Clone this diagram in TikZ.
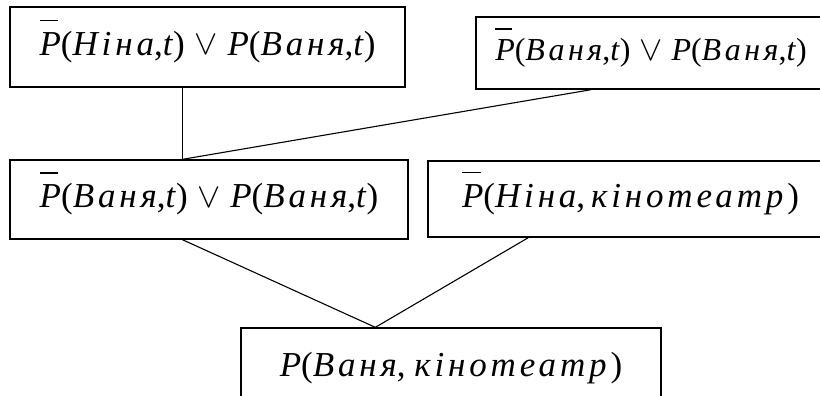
\documentclass[tikz,border=0pt]{standalone}
\usepackage{fontspec}
\setmainfont{Liberation Serif}
\newfontfamily\cyr[LetterSpace=11]{Liberation Serif}
\usetikzlibrary{calc}

% negated predicate letter: P with a bar over it
\newcommand\barP{\leavevmode\rlap{\raisebox{0.97em}[0pt][0pt]{\rule{0.53em}{0.05em}}}P}
\newcommand\lp{\textup{(}}
\newcommand\rp{\textup{)}}
\newcommand\cm{\textup{,}}
\newcommand\orop{\;\textup{\raisebox{0.02em}{\scalebox{1.4}{$\vee$}}}\;}
\newcommand\w[1]{{\cyr\itshape #1}}

\tikzset{
  clause/.style={draw, line width=1.3pt, rectangle, inner sep=0pt,
    font=\fontsize{35}{40}\selectfont\itshape},
  small clause/.style={clause, font=\fontsize{32}{38}\selectfont\itshape},
  edge/.style={line width=1.1pt}
}

\begin{document}
\begin{tikzpicture}[x=1pt, y=-1pt]
  \useasboundingbox (0,0) rectangle (820,396);
  \clip (0,0) rectangle (820,396);

  % premises
  \node[clause, minimum width=395pt, minimum height=80pt] (c1) at (207.5,47)
    {\barP\lp\w{Ніна}\cm t\rp\orop P\lp\w{Ваня}\cm t\rp};
  \node[small clause, minimum width=350pt, minimum height=72pt] (c2) at (651,53)
    {\barP\lp\w{Ваня}\cm t\rp\orop P\lp\w{Ваня}\cm t\rp};

  % first resolvent and the fact
  \node[clause, minimum width=398pt, minimum height=79pt] (c3) at (209,199.5)
    {\barP\lp\w{Ваня}\cm t\rp\orop P\lp\w{Ваня}\cm t\rp};
  \node[clause, minimum width=405pt, minimum height=76pt] (c4) at (630.5,199)
    {\barP\lp\w{Ніна}\cm\,\w{кінотеатр}\rp};

  % conclusion
  \node[clause, minimum width=420pt, minimum height=80pt] (c5) at (451,368)
    {P\lp\w{Ваня}\cm{} \w{кінотеатр}\rp};

  % resolution links
  \coordinate (j1) at ([xshift=173pt]c3.north west);
  \coordinate (j2) at ([xshift=135pt]c5.north west);
  \draw[edge] ([xshift=173pt]c1.south west) -- (j1);
  \draw[edge] ([xshift=116pt]c2.south west) -- (j1);
  \draw[edge] ([xshift=173pt]c3.south west) -- (j2);
  \draw[edge] ([xshift=101pt]c4.south west) -- (j2);
\end{tikzpicture}
\end{document}
